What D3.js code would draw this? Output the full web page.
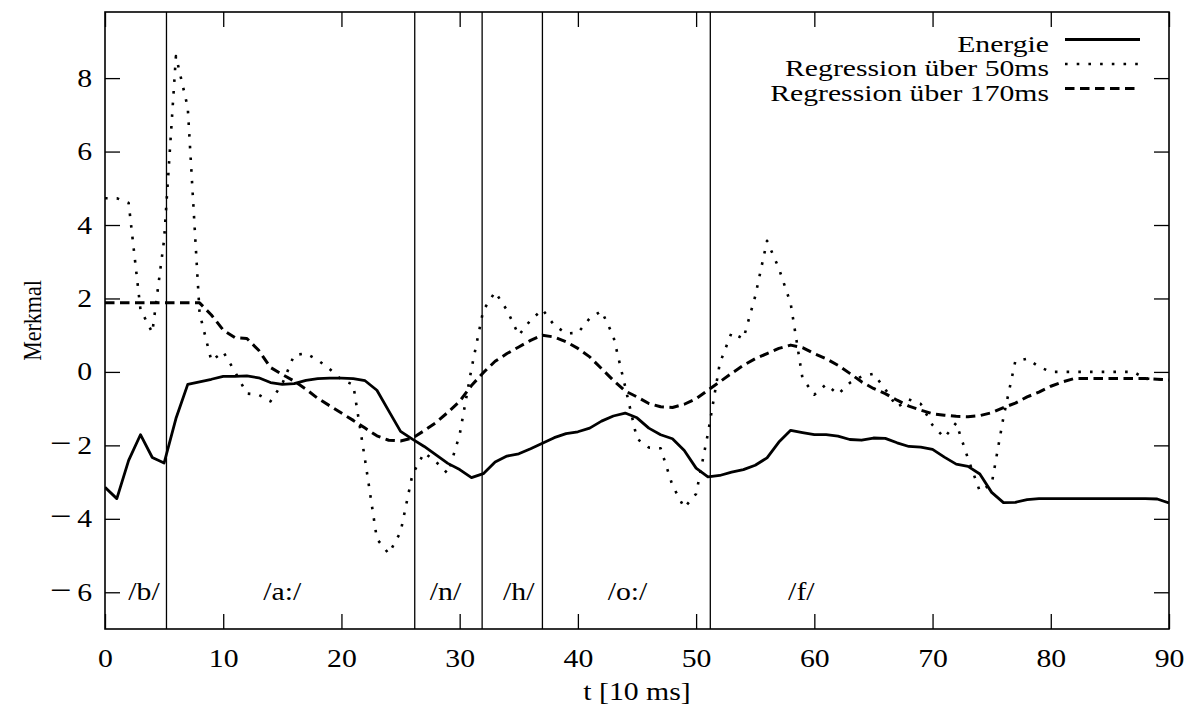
<!DOCTYPE html>
<html>
<head>
<meta charset="utf-8">
<script src="https://cdn.jsdelivr.net/npm/d3@7"></script>
<style>
  body { margin: 0; background: #fff; }
  svg text { font-family: "Liberation Serif", "Times New Roman", serif; fill: #000; }
</style>
</head>
<body>
<svg id="chart"></svg>
<script>
// Time axis (t in units of 10 ms), one sample per frame.
const t = d3.range(0, 91);

// Energie (solid).
const energie = [
  -3.14, -3.45, -2.41, -1.71, -2.33, -2.48, -1.27, -0.34, -0.27, -0.2,
  -0.12, -0.12, -0.11, -0.16, -0.29, -0.34, -0.32, -0.23, -0.18, -0.17,
  -0.17, -0.18, -0.24, -0.5, -1.06, -1.62, -1.83, -2.03, -2.26, -2.49,
  -2.66, -2.88, -2.77, -2.45, -2.29, -2.23, -2.09, -1.94, -1.79, -1.68,
  -1.63, -1.53, -1.34, -1.2, -1.12, -1.25, -1.53, -1.71, -1.82, -2.14,
  -2.62, -2.86, -2.82, -2.73, -2.66, -2.54, -2.34, -1.91, -1.59, -1.65,
  -1.71, -1.71, -1.75, -1.84, -1.86, -1.8, -1.81, -1.93, -2.03, -2.05,
  -2.11, -2.32, -2.51, -2.57, -2.78, -3.28, -3.56, -3.55, -3.48, -3.45,
  -3.45, -3.45, -3.45, -3.45, -3.45, -3.45, -3.45, -3.45, -3.45, -3.46,
  -3.57
];

// Regression over 50 ms (dotted).
const reg50 = [
  4.73, 4.73, 4.6, 1.7, 1.07, 3.6, 8.6, 7.2, 1.6, 0.3,
  0.55, 0.0, -0.59, -0.62, -0.8, -0.32, 0.46, 0.5, 0.32, 0.08,
  -0.21, -0.35, -2.4, -4.55, -4.95, -4.36, -2.8, -2.2, -2.45, -2.77,
  -1.71, 0.09, 1.68, 2.18, 1.68, 1.0, 1.41, 1.7, 1.27, 1.05,
  1.06, 1.46, 1.66, 0.97, -0.4, -1.82, -2.06, -2.08, -3.09, -3.7,
  -3.32, -1.68, 0.23, 1.07, 0.9, 2.06, 3.57, 2.82, 1.86, -0.18,
  -0.62, -0.34, -0.61, -0.3, -0.12, -0.05, -0.47, -0.96, -0.75, -0.87,
  -1.45, -1.79, -1.39, -2.36, -3.25, -3.05, -1.23, 0.29, 0.36, 0.14,
  0.0, 0.0, 0.0, 0.0, 0.0, 0.0, 0.0, 0.0, -0.18, -0.2,
  -0.2
];

// Regression over 170 ms (dashed).
const reg170 = [
  1.88, 1.88, 1.88, 1.88, 1.88, 1.88, 1.88, 1.88, 1.88, 1.55,
  1.14, 0.93, 0.91, 0.59, 0.12, -0.07, -0.25, -0.47, -0.72, -0.92,
  -1.12, -1.32, -1.53, -1.74, -1.86, -1.88, -1.8, -1.6, -1.38, -1.1,
  -0.8, -0.37, -0.02, 0.29, 0.5, 0.68, 0.86, 1.0, 0.95, 0.82,
  0.64, 0.41, 0.09, -0.23, -0.52, -0.68, -0.86, -0.95, -0.97, -0.88,
  -0.73, -0.5, -0.27, -0.04, 0.18, 0.36, 0.5, 0.64, 0.73, 0.66,
  0.5, 0.36, 0.18, -0.04, -0.27, -0.45, -0.59, -0.77, -0.93, -1.04,
  -1.14, -1.18, -1.21, -1.22, -1.19, -1.11, -0.97, -0.85, -0.68, -0.55,
  -0.39, -0.27, -0.18, -0.18, -0.18, -0.18, -0.18, -0.18, -0.18, -0.2,
  -0.22
];

// Phoneme segment boundaries and labels.
const boundaries = [5.2, 26.2, 31.9, 37.0, 51.2];
const phonemes = ["/b/", "/a:/", "/n/", "/h/", "/o:/", "/f/"];
const phonemeAt = [3.3, 15.0, 28.8, 35.0, 44.2, 58.9];

// Axis ticks.
const xTicks = d3.range(0, 91, 10);
const yTicks = [-6, -4, -2, 0, 2, 4, 6, 8];

const seriesNames = ["Energie", "Regression über 50ms", "Regression über 170ms"];

const width = 1184;
const height = 708;
const margin = { top: 12, right: 15, bottom: 79, left: 105 };

// The reference type is wide: Times at 25px, stretched horizontally.
const fontSize = 25;
const stretch = 1.19;

const svg = d3.select("#chart").attr("width", width).attr("height", height);

function translate(x, y) {
  return "translate(" + x + "," + y + ")";
}

const plotW = width - margin.left - margin.right;
const plotH = height - margin.top - margin.bottom;

const xScale = d3.scaleLinear().domain([0, 90]).range([0, plotW]);
const yScale = d3.scaleLinear().domain([-7, 9.8]).range([plotH, 0]);

const plot = svg.append("g").attr("transform", translate(margin.left, margin.top));

// Axes with inward ticks on all four sides (gnuplot style).
const tickLen = 15;

function styleAxis(g) {
  g.select(".domain").remove();
  g.selectAll(".tick line").attr("stroke", "#000").attr("stroke-width", 1.3);
  g.selectAll("text")
    .style("font-family", "Liberation Serif, serif")
    .style("font-size", fontSize + "px")
    .attr("fill", "#000");
}

plot.append("g")
  .attr("transform", translate(0, plotH))
  .call(d3.axisBottom(xScale).tickValues(xTicks).tickSize(-tickLen).tickPadding(20).tickFormat(d3.format("d")))
  .call(styleAxis)
  .selectAll("text")
  .attr("transform", "scale(" + stretch + ",1)");

plot.append("g")
  .call(d3.axisTop(xScale).tickValues(xTicks).tickSize(-tickLen).tickFormat(""))
  .call(styleAxis);

const yLabels = plot.append("g")
  .call(d3.axisLeft(yScale).tickValues(yTicks).tickSize(-tickLen).tickPadding(12).tickFormat(d3.format("d")))
  .call(styleAxis)
  .selectAll("text")
  .attr("x", -13 / stretch)
  .attr("transform", "scale(" + stretch + ",1)");

// gnuplot draws a long minus with a little air before the digit.
yLabels.filter(d => d < 0).each(function(d) {
  const label = d3.select(this).text("");
  label.append("tspan").style("font-size", "32px").text("\u2212");
  label.append("tspan").text("\u2009" + (-d));
});

plot.append("g")
  .attr("transform", translate(plotW, 0))
  .call(d3.axisRight(yScale).tickValues(yTicks).tickSize(-tickLen).tickFormat(""))
  .call(styleAxis);

// Segment boundaries.
plot.append("g")
  .selectAll("line")
  .data(boundaries)
  .enter()
  .append("line")
  .attr("x1", d => xScale(d))
  .attr("x2", d => xScale(d))
  .attr("y1", 0)
  .attr("y2", plotH)
  .attr("stroke", "#000")
  .attr("stroke-width", 1.3);

// Phoneme labels.
plot.append("g")
  .selectAll("g")
  .data(phonemes)
  .enter()
  .append("g")
  .attr("transform", (d, i) => translate(xScale(phonemeAt[i]), yScale(-6.2)))
  .append("text")
  .attr("text-anchor", "middle")
  .attr("transform", "scale(" + stretch + ",1)")
  .style("font-size", fontSize + "px")
  .text(d => d);

// Lines.
const styles = [
  { data: energie, width: 2.8, dash: null },
  { data: reg50, width: 2.6, dash: "2.6 9.1" },
  { data: reg170, width: 3, dash: "9.5 5.5" }
];

const line = d3.line()
  .x(d => xScale(d[0]))
  .y(d => yScale(d[1]));

plot.append("defs").append("clipPath").attr("id", "clip")
  .append("rect").attr("width", plotW).attr("height", plotH);

const lines = plot.append("g").attr("clip-path", "url(#clip)");

styles.forEach(s => {
  lines.append("path")
    .datum(t.map((x, i) => [x, s.data[i]]))
    .attr("d", line)
    .attr("fill", "none")
    .attr("stroke", "#000")
    .attr("stroke-width", s.width)
    .attr("stroke-linejoin", "round")
    .attr("stroke-dasharray", s.dash);
});

// Border.
plot.append("rect")
  .attr("width", plotW)
  .attr("height", plotH)
  .attr("fill", "none")
  .attr("stroke", "#000")
  .attr("stroke-width", 1.6);

// Legend (top right); rows are tight as in the reference.
const legend = svg.append("g");
const legendRows = [39.5, 64, 88.5];
seriesNames.forEach((name, i) => {
  legend.append("g")
    .attr("transform", translate(1049, legendRows[i] + 12))
    .append("text")
    .attr("text-anchor", "end")
    .attr("transform", "scale(" + (stretch * 1.04) + ",1)")
    .style("font-size", "24px")
    .text(name);
  legend.append("line")
    .attr("x1", 1065)
    .attr("x2", 1140)
    .attr("y1", legendRows[i])
    .attr("y2", legendRows[i])
    .attr("stroke", "#000")
    .attr("stroke-width", styles[i].width)
    .attr("stroke-dasharray", styles[i].dash);
});

// Axis titles.
svg.append("g")
  .attr("transform", translate(margin.left + plotW / 2, 700))
  .append("text")
  .attr("text-anchor", "middle")
  .attr("transform", "scale(" + stretch + ",1)")
  .style("font-size", fontSize + "px")
  .text("t [10 ms]");

svg.append("g")
  .attr("transform", translate(32, margin.top + plotH / 2) + " scale(" + stretch + ",1) rotate(-90)")
  .append("text")
  .attr("text-anchor", "middle")
  .attr("dy", "0.35em")
  .style("font-size", "22px")
  .text("Merkmal");
</script>
</body>
</html>
